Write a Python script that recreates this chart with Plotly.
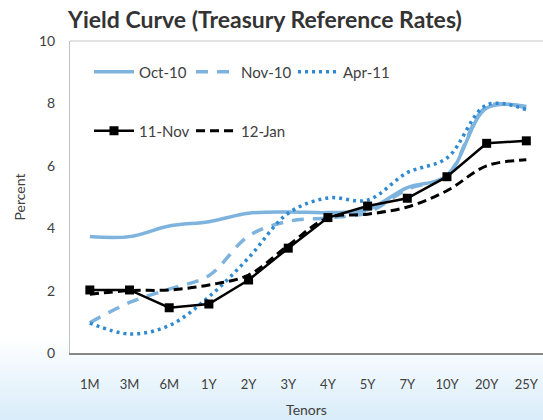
import plotly.graph_objects as go

tenors = ['1M', '3M', '6M', '1Y', '2Y', '3Y', '4Y', '5Y', '7Y', '10Y', '20Y', '25Y']
oct10 = [3.73, 3.73, 4.07, 4.21, 4.48, 4.52, 4.50, 4.60, 5.30, 5.68, 7.85, 7.90]
nov10 = [0.97, 1.62, 2.05, 2.48, 3.75, 4.22, 4.33, 4.50, 5.25, 5.70, 7.90, 7.85]
apr11 = [0.96, 0.61, 0.88, 1.80, 3.05, 4.48, 4.97, 4.90, 5.78, 6.25, 7.95, 7.80]
nov11 = [2.02, 2.02, 1.45, 1.57, 2.34, 3.36, 4.34, 4.71, 4.96, 5.65, 6.72, 6.80]
jan12 = [1.88, 2.00, 2.02, 2.18, 2.50, 3.45, 4.33, 4.45, 4.68, 5.20, 6.00, 6.19]
y_ticks = [0, 2, 4, 6, 8, 10]

FONT = "Lato"
TXT = "#404040"
LIGHT = "#7eb3dd"
MID = "#2f8ad3"

W, H = 543, 420
ML, MT, MB = 70, 41, 67
PH = H - MT - MB
PW = W - ML

fig = go.Figure()
fig.add_trace(go.Scatter(x=tenors, y=oct10, name="Oct-10", mode="lines",
                         line=dict(color=LIGHT, width=3.5, shape="spline"), legend="legend"))
fig.add_trace(go.Scatter(x=tenors, y=nov10, name="Nov-10", mode="lines",
                         line=dict(color=LIGHT, width=3.5, shape="spline", dash="12px,9px"), legend="legend2"))
fig.add_trace(go.Scatter(x=tenors, y=apr11, name="Apr-11", mode="lines",
                         line=dict(color=MID, width=3.5, shape="spline", dash="3px,4px"), legend="legend3"))
fig.add_trace(go.Scatter(x=tenors, y=nov11, name="11-Nov", mode="lines+markers",
                         line=dict(color="#000000", width=2.5),
                         marker=dict(symbol="square", size=9, color="#000000"), legend="legend4"))
fig.add_trace(go.Scatter(x=tenors, y=jan12, name="12-Jan", mode="lines",
                         line=dict(color="#000000", width=3, shape="spline", dash="9px,5px"), legend="legend5"))

# background gradient strips (paper area below the plot)
shapes = []
top_px, bot_px = 337, 420
step = 3
c0 = (255, 255, 255)
c1 = (216, 236, 249)
py = top_px
while py < bot_px:
    t = (py - top_px + step / 2) / (bot_px - top_px)
    c = tuple(int(round(a + (b - a) * t)) for a, b in zip(c0, c1))
    col = "rgb(%d,%d,%d)" % c
    y0 = (H - MB - py) / PH
    y1 = (H - MB - (py + step)) / PH
    x1 = 1 if py >= H - MB else 0
    shapes.append(dict(type="rect", xref="paper", yref="paper", x0=-ML / PW, x1=x1,
                       y0=y1, y1=y0, fillcolor=col, line=dict(width=0), layer="below"))
    py += step
shapes.append(dict(type="line", xref="paper", yref="paper", x0=0, x1=1, y0=1, y1=1,
                   line=dict(color="#c8c8c8", width=1)))


def leg(px, py):
    return dict(orientation="h", x=(px - ML) / PW, xanchor="left", y=(H - MB - py) / PH,
                yanchor="middle", bgcolor="rgba(0,0,0,0)", font=dict(size=15, color=TXT),
                itemwidth=40)


fig.update_layout(
    width=W, height=H,
    margin=dict(l=ML, r=0, t=MT, b=MB, autoexpand=False),
    paper_bgcolor="white", plot_bgcolor="white",
    font=dict(family=FONT, color=TXT, size=14),
    title=dict(text="<b>Yield Curve (Treasury Reference Rates)</b>", x=68 / W, xanchor="left",
               xref="container", y=1 - 20 / H, yanchor="middle",
               font=dict(family=FONT, size=23, color="#333333")),
    showlegend=True,
    legend=leg(89, 72),
    legend2=leg(191, 72),
    legend3=leg(293, 72),
    legend4=leg(89, 131),
    legend5=leg(191, 131),
    shapes=shapes,
    xaxis=dict(type="category", range=[-0.5, 11.42], showgrid=False, zeroline=False,
               showline=True, linecolor="#878787", linewidth=2, ticks="",
               ticklabelstandoff=18, tickfont=dict(size=13, color=TXT),
               title=dict(text="Tenors", standoff=15, font=dict(size=14, color=TXT))),
    yaxis=dict(range=[0, 10], tickvals=y_ticks, showgrid=False, zeroline=False,
               showline=True, linecolor="#c0c0c0", linewidth=1, ticks="",
               ticklabelstandoff=11, tickfont=dict(size=14, color=TXT),
               title=dict(text="Percent", standoff=10, font=dict(size=14, color=TXT))),
)

fig.write_html("out.html", config={"displayModeBar": False},
               post_script="document.body.style.margin='0px';")
